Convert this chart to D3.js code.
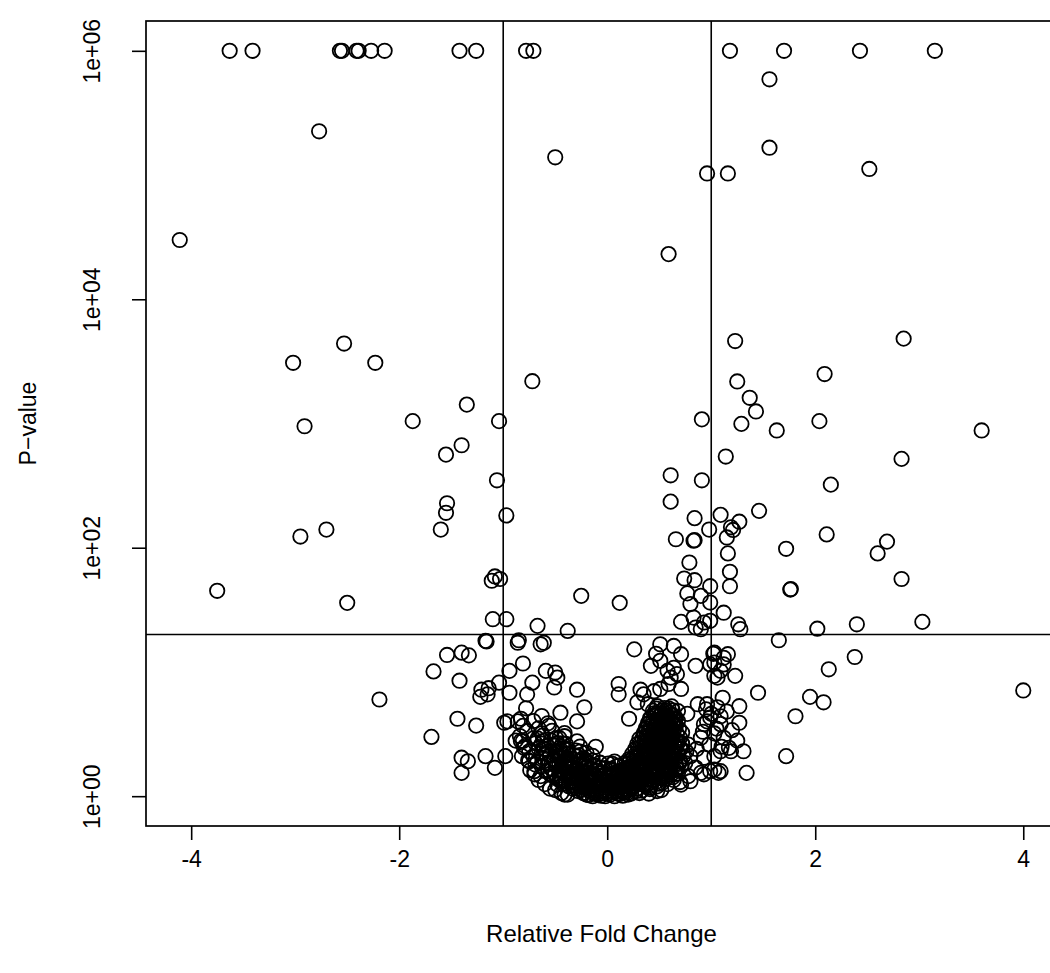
<!DOCTYPE html>
<html>
<head>
<meta charset="utf-8">
<script src="https://cdn.jsdelivr.net/npm/d3@7"></script>
<style>
  body { margin: 0; background: #fff; }
  text { font-family: "Liberation Sans", Arial, sans-serif; fill: #000; }
</style>
</head>
<body>
<div id="chart"></div>
<script>
// axis ticks and cutoff lines
const xTicks = [-4, -2, 0, 2, 4];
const yTicks = [1, 1e2, 1e4, 1e6];
const yTickLabels = ['1e+00', '1e+02', '1e+04', '1e+06'];
const foldCutoffs = [-1, 1];
const pCutoff = 20;

// [relative fold change, p-value]
const cappedPoints = [
  [-3.63, 1e6], [-3.41, 1e6], [-2.57, 1e6], [-2.55, 1e6], [-2.41, 1e6], [-2.39, 1e6],
  [-2.27, 1e6], [-2.14, 1e6], [-1.42, 1e6], [-1.26, 1e6], [-0.78, 1e6], [-0.71, 1e6],
  [1.18, 1e6], [1.70, 1e6], [2.43, 1e6], [3.15, 1e6]
];

const highPoints = [
  [-2.77, 2.25e5], [-4.11, 3.0e4], [-0.50, 1.39e5], [1.56, 5.9e5], [1.56, 1.66e5],
  [0.96, 1.03e5], [1.16, 1.03e5], [2.52, 1.12e5], [0.59, 2.31e4]
];

const leftPoints = [
  [-2.53, 4400], [-3.02, 3080], [-2.23, 3080], [-0.72, 2190], [-1.35, 1420], [-2.91, 950],
  [-1.87, 1045], [-1.04, 1045], [-1.40, 668], [-1.55, 562], [-1.06, 349], [-1.54, 228],
  [-1.55, 191], [-1.60, 140], [-0.97, 182], [-2.70, 140], [-2.95, 123], [-3.75, 45],
  [-2.50, 36], [-1.08, 58.7], [-1.11, 54.2], [-1.03, 56], [-1.10, 26.6], [-0.97, 26.6],
  [-0.67, 23.5], [-0.38, 21.4], [-0.25, 41],
  [-1.17, 17.8], [-1.16, 17.6], [-0.85, 18], [-1.54, 13.7], [-1.40, 14.3], [-1.33, 13.6],
  [-1.67, 10.1], [-1.42, 8.5], [-0.94, 10.2], [-0.81, 11.7], [-0.72, 8.2], [-1.04, 8.2],
  [-1.21, 7.2], [-1.15, 6.6], [-1.22, 6.3], [-1.14, 7.4], [-0.94, 6.8], [-0.77, 6.6],
  [-2.19, 6.0], [-0.78, 5.1], [-1.44, 4.2], [-1.26, 3.7], [-0.99, 3.9], [-0.83, 4.2],
  [-1.69, 3.0], [-1.17, 2.1], [-0.98, 2.1], [-1.40, 2.04], [-1.34, 1.91], [-1.40, 1.54],
  [-1.08, 1.69],
  [-0.86, 17.2], [-0.64, 16.7], [-0.61, 17.2], [-0.59, 10.2], [-0.50, 9.9], [-0.48, 9.0],
  [-0.51, 7.5], [-0.29, 7.2], [-0.22, 5.2], [-0.45, 4.7], [-0.29, 4.0], [-0.11, 2.5],
  [-0.96, 4.0], [-0.86, 4.0], [-0.88, 2.8], [-0.48, 1.24], [-0.41, 1.03], [-0.83, 2.78],
  [-0.80, 2.45], [-0.75, 1.91], [-0.70, 1.59],
  [-0.66, 1.35], [-0.60, 1.25], [-0.55, 1.15], [-0.70, 1.50], [-0.64, 1.45], [-0.50, 1.12],
  [-0.44, 1.06], [-0.38, 1.03], [-0.74, 1.62], [-0.69, 1.80], [-0.76, 1.95], [-0.82, 2.10]
];

const rightPoints = [
  [1.23, 4610], [2.85, 4820], [2.09, 2500], [1.25, 2180], [1.37, 1610], [1.43, 1250],
  [0.91, 1080], [1.29, 993], [1.63, 879], [2.04, 1045], [3.60, 879], [1.14, 542],
  [2.83, 519], [0.61, 383], [0.91, 349], [2.15, 322], [0.61, 235], [1.46, 198],
  [0.84, 173], [1.09, 184], [1.27, 162], [1.19, 146], [1.21, 139], [0.98, 140],
  [1.15, 121], [0.66, 117], [0.83, 114], [0.84, 115], [2.11, 128], [2.69, 112],
  [2.60, 90], [1.72, 98], [1.16, 90], [0.79, 76], [1.18, 64], [2.83, 56],
  [1.76, 46], [1.765, 46.5], [0.74, 56.5], [0.84, 54.8], [0.99, 49], [1.18, 49],
  [0.77, 42.9], [0.90, 41], [0.12, 36], [0.80, 35.2], [0.99, 36.2], [1.12, 30],
  [0.71, 25.3], [0.83, 27.4], [0.93, 25], [0.99, 25.8], [1.26, 24.2], [1.28, 22.1],
  [2.02, 22.3], [2.40, 24.2], [3.03, 25.3], [0.85, 22.8], [0.90, 22.1], [1.65, 18],
  [1.03, 14.3], [1.16, 13.9], [1.03, 11.9], [1.12, 11.5], [1.23, 9.3], [1.03, 9.3],
  [2.38, 13.2], [2.13, 10.5], [1.45, 6.8], [1.95, 6.3], [2.08, 5.7], [1.81, 4.4], [4.00, 7.1],
  [1.11, 6.2], [1.27, 5.3], [1.27, 3.9], [1.09, 4.4], [0.96, 4.0], [1.03, 3.2],
  [1.25, 2.8], [1.19, 2.3], [1.31, 2.3], [1.03, 2.1], [1.72, 2.1], [1.07, 1.54],
  [0.93, 1.5], [1.34, 1.54], [0.99, 1.59],
  [0.26, 15.2], [0.51, 16.7], [0.64, 16.2], [0.71, 13.9], [0.42, 11.2], [0.51, 12.3],
  [0.58, 10.2], [0.64, 10.8], [0.61, 9.0], [0.67, 9.6], [0.85, 11.2], [1.02, 14.0],
  [1.12, 13.0], [0.99, 11.5], [1.09, 10.2], [1.06, 9.0], [0.47, 14.0], [0.59, 8.0],
  [0.71, 7.3], [0.51, 7.3],
  [0.11, 8.0], [0.11, 6.6], [0.32, 7.2], [0.35, 6.6], [0.45, 7.0], [0.29, 5.7],
  [0.39, 5.5], [0.21, 4.2], [0.87, 5.5], [0.96, 5.5], [1.06, 5.2], [0.77, 4.6],
  [0.93, 3.8], [1.09, 3.8], [0.90, 2.95], [0.99, 4.3], [1.12, 2.95], [1.09, 2.3],
  [0.93, 2.04], [0.90, 1.54], [1.03, 1.64], [1.09, 1.59], [1.17, 2.45], [0.80, 1.32],
  [0.71, 1.24], [0.48, 1.10],
  [0.95, 5.0], [1.00, 4.6], [1.05, 3.5], [0.92, 3.3], [1.15, 4.8], [1.20, 3.4],
  [0.98, 2.6], [1.10, 2.5],
  [0.78, 1.45], [0.70, 1.30], [0.85, 1.70], [0.75, 1.85], [0.80, 2.10], [0.86, 2.40],
  [0.78, 2.60], [0.58, 1.25], [0.52, 1.12], [0.40, 1.05], [0.64, 1.35]
];

// the dense U-shaped core near zero fold change, read row by row
const corePoints = [
  [-0.18, 1.02], [-0.14, 1.00], [-0.11, 1.04], [-0.06, 1.01], [-0.02, 1.00], [0.03, 1.03], [0.07, 1.00], [0.10, 1.05], [0.15, 1.01], [0.20, 1.03],
  [-0.23, 1.06], [-0.20, 1.03], [-0.14, 1.07], [-0.08, 1.04], [-0.05, 1.06], [0.00, 1.05], [0.05, 1.08], [0.12, 1.04], [0.17, 1.07], [0.23, 1.05],
  [-0.28, 1.10], [-0.22, 1.06], [-0.17, 1.11], [-0.10, 1.07], [-0.04, 1.10], [0.02, 1.06], [0.10, 1.09], [0.14, 1.12], [0.20, 1.07], [0.28, 1.10], [0.31, 1.06],
  [-0.33, 1.15], [-0.25, 1.12], [-0.21, 1.16], [-0.13, 1.11], [-0.09, 1.15], [-0.01, 1.13], [0.05, 1.16], [0.09, 1.11], [0.17, 1.14], [0.21, 1.12],
  [0.29, 1.16], [0.33, 1.11], [0.41, 1.14],
  [-0.37, 1.20], [-0.29, 1.16], [-0.24, 1.22], [-0.19, 1.17], [-0.11, 1.19], [-0.07, 1.23], [0.01, 1.16], [0.05, 1.21], [0.13, 1.17], [0.17, 1.22],
  [0.25, 1.18], [0.29, 1.15], [0.37, 1.21], [0.41, 1.17], [0.48, 1.20],
  [-0.42, 1.26], [-0.34, 1.22], [-0.30, 1.27], [-0.22, 1.23], [-0.18, 1.21], [-0.10, 1.26], [-0.06, 1.22], [0.02, 1.27], [0.06, 1.23], [0.14, 1.20],
  [0.18, 1.26], [0.26, 1.22], [0.30, 1.27], [0.38, 1.24], [0.42, 1.21], [0.50, 1.26],
  [-0.45, 1.33], [-0.37, 1.28], [-0.33, 1.34], [-0.25, 1.29], [-0.21, 1.27], [-0.13, 1.32], [-0.09, 1.26], [-0.01, 1.33], [0.05, 1.29], [0.09, 1.25],
  [0.17, 1.31], [0.21, 1.34], [0.29, 1.27], [0.33, 1.32], [0.41, 1.29], [0.45, 1.34], [0.53, 1.28],
  [-0.48, 1.38], [-0.40, 1.34], [-0.36, 1.40], [-0.28, 1.35], [-0.24, 1.33], [-0.16, 1.39], [-0.12, 1.34], [-0.04, 1.38], [0.00, 1.33], [0.08, 1.39],
  [0.12, 1.35], [0.20, 1.32], [0.24, 1.38], [0.32, 1.34], [0.36, 1.40], [0.44, 1.35], [0.48, 1.32], [0.56, 1.38],
  [-0.51, 1.44], [-0.45, 1.40], [-0.36, 1.46], [-0.32, 1.41], [-0.24, 1.39], [-0.19, 1.45], [-0.10, 1.40], [-0.06, 1.46], [0.03, 1.42], [0.07, 1.38],
  [0.15, 1.44], [0.19, 1.40], [0.27, 1.46], [0.31, 1.41], [0.39, 1.38], [0.43, 1.44], [0.51, 1.40], [0.55, 1.46], [0.63, 1.42],
  [-0.55, 1.51], [-0.46, 1.47], [-0.42, 1.53], [-0.33, 1.48], [-0.29, 1.45], [-0.20, 1.52], [-0.15, 1.47], [-0.07, 1.53], [-0.02, 1.48], [0.06, 1.45],
  [0.10, 1.51], [0.18, 1.47], [0.22, 1.53], [0.30, 1.48], [0.34, 1.45], [0.42, 1.51], [0.46, 1.47], [0.54, 1.53], [0.58, 1.48], [0.66, 1.51],
  [-0.59, 1.59], [-0.50, 1.53], [-0.46, 1.60], [-0.37, 1.55], [-0.32, 1.51], [-0.23, 1.58], [-0.18, 1.54], [-0.09, 1.60], [-0.04, 1.55], [0.05, 1.51],
  [0.10, 1.58], [0.19, 1.53], [0.24, 1.60], [0.32, 1.55], [0.36, 1.51], [0.44, 1.58], [0.48, 1.53], [0.56, 1.60], [0.60, 1.55], [0.68, 1.52],
  [-0.53, 1.66], [-0.44, 1.61], [-0.39, 1.68], [-0.30, 1.62], [-0.25, 1.59], [-0.16, 1.67], [-0.11, 1.61], [-0.02, 1.68], [0.03, 1.62], [0.12, 1.59],
  [0.17, 1.66], [0.25, 1.61], [0.29, 1.68], [0.37, 1.62], [0.41, 1.59], [0.49, 1.66], [0.53, 1.61], [0.61, 1.68], [0.65, 1.62],
  [-0.63, 1.74], [-0.54, 1.67], [-0.49, 1.75], [-0.40, 1.69], [-0.35, 1.66], [-0.26, 1.73], [-0.21, 1.68], [-0.12, 1.76], [-0.07, 1.69], [0.03, 1.66],
  [0.09, 1.74], [0.18, 1.68], [0.23, 1.75], [0.31, 1.70], [0.35, 1.66], [0.43, 1.73], [0.47, 1.68], [0.55, 1.76], [0.59, 1.70], [0.67, 1.66], [0.71, 1.73],
  [-0.56, 1.83], [-0.46, 1.77], [-0.40, 1.84], [-0.31, 1.78], [-0.26, 1.75], [-0.17, 1.83], [-0.12, 1.77], [0.05, 1.82], [0.11, 1.76],
  [0.21, 1.84], [0.25, 1.78], [0.33, 1.75], [0.37, 1.83], [0.45, 1.77], [0.49, 1.84], [0.57, 1.78], [0.61, 1.75], [0.69, 1.82],
  [-0.67, 1.91], [-0.57, 1.85], [-0.51, 1.93], [-0.42, 1.86], [-0.37, 1.83], [-0.28, 1.90], [-0.23, 1.85], [-0.14, 1.93], [-0.07, 1.86], [0.01, 1.83],
  [0.07, 1.90], [0.17, 1.85], [0.22, 1.93], [0.30, 1.86], [0.34, 1.83], [0.42, 1.91], [0.46, 1.85], [0.54, 1.93], [0.58, 1.87], [0.66, 1.83], [0.70, 1.91],
  [-0.51, 2.00], [-0.41, 1.93], [-0.35, 2.01], [-0.25, 1.95], [-0.20, 1.92],
  [0.21, 1.99], [0.26, 1.93], [0.34, 2.01], [0.38, 1.95], [0.46, 1.92], [0.50, 2.00], [0.58, 1.94], [0.62, 2.01], [0.70, 1.95],
  [-0.71, 2.10], [-0.61, 2.02], [-0.55, 2.11], [-0.45, 2.03], [-0.39, 2.00], [-0.29, 2.08], [-0.23, 2.02], [-0.14, 2.11],
  [0.25, 2.03], [0.29, 2.10], [0.37, 2.01], [0.41, 2.09], [0.49, 2.03], [0.53, 2.11], [0.61, 2.04], [0.65, 2.00], [0.73, 2.09],
  [-0.59, 2.20], [-0.47, 2.12], [-0.39, 2.21], [-0.27, 2.13],
  [0.24, 2.19], [0.32, 2.12], [0.36, 2.21], [0.44, 2.13], [0.48, 2.10], [0.56, 2.19], [0.60, 2.13], [0.68, 2.21],
  [-0.75, 2.30], [-0.63, 2.21], [-0.56, 2.31], [-0.44, 2.22], [-0.37, 2.19], [-0.26, 2.29], [-0.20, 2.23],
  [0.28, 2.21], [0.32, 2.30], [0.40, 2.22], [0.44, 2.31], [0.52, 2.20], [0.56, 2.28], [0.64, 2.23], [0.68, 2.19], [0.76, 2.29],
  [-0.61, 2.41], [-0.49, 2.32], [-0.42, 2.42], [-0.30, 2.33],
  [0.27, 2.40], [0.35, 2.32], [0.39, 2.42], [0.47, 2.33], [0.51, 2.30], [0.59, 2.40], [0.63, 2.33], [0.71, 2.42],
  [-0.79, 2.53], [-0.66, 2.43], [-0.58, 2.54], [-0.46, 2.44], [-0.38, 2.41], [-0.26, 2.51],
  [0.30, 2.44], [0.34, 2.53], [0.42, 2.43], [0.46, 2.52], [0.54, 2.42], [0.58, 2.51], [0.66, 2.45], [0.70, 2.40],
  [-0.63, 2.65], [-0.51, 2.55], [-0.43, 2.66],
  [0.29, 2.63], [0.37, 2.55], [0.41, 2.66], [0.49, 2.56], [0.53, 2.52], [0.61, 2.64], [0.65, 2.56], [0.72, 2.66],
  [-0.81, 2.78], [-0.69, 2.67], [-0.61, 2.79], [-0.48, 2.68], [-0.40, 2.64], [-0.29, 2.76],
  [0.32, 2.67], [0.36, 2.78], [0.44, 2.66], [0.48, 2.77], [0.56, 2.65], [0.60, 2.76], [0.68, 2.69], [0.72, 2.64],
  [-0.67, 2.92], [-0.54, 2.80], [-0.46, 2.93],
  [0.31, 2.90], [0.39, 2.80], [0.43, 2.92], [0.51, 2.81], [0.55, 2.77], [0.63, 2.91], [0.67, 2.81],
  [-0.84, 3.05], [-0.71, 2.92], [-0.62, 3.07], [-0.49, 2.93], [-0.41, 3.04],
  [0.34, 2.93], [0.38, 3.06], [0.46, 2.91], [0.50, 3.04], [0.58, 2.90], [0.62, 3.05], [0.70, 2.95],
  [0.35, 3.19], [0.43, 3.07], [0.47, 3.20], [0.55, 3.08], [0.59, 3.03], [0.67, 3.18],
  [-0.77, 3.35], [-0.63, 3.21], [-0.53, 3.36], [-0.41, 3.22],
  [0.36, 3.22], [0.40, 3.35], [0.48, 3.20], [0.52, 3.33], [0.60, 3.19], [0.64, 3.34], [0.72, 3.24],
  [0.37, 3.50], [0.45, 3.37], [0.49, 3.52], [0.57, 3.38], [0.61, 3.33], [0.69, 3.49],
  [-0.81, 3.68], [-0.66, 3.52], [-0.56, 3.69],
  [0.38, 3.52], [0.42, 3.68], [0.50, 3.51], [0.54, 3.66], [0.62, 3.50], [0.66, 3.67],
  [0.39, 3.84], [0.47, 3.69], [0.51, 3.86], [0.59, 3.70], [0.65, 3.82],
  [-0.71, 4.03], [-0.57, 3.86],
  [0.40, 3.86], [0.44, 4.04], [0.52, 3.85], [0.56, 4.02], [0.64, 3.84], [0.68, 4.03],
  [0.41, 4.22], [0.49, 4.05], [0.53, 4.24], [0.61, 4.06], [0.65, 4.20],
  [-0.63, 4.42], [0.42, 4.25], [0.46, 4.44], [0.54, 4.23], [0.58, 4.41], [0.66, 4.26],
  [0.45, 4.64], [0.51, 4.45], [0.55, 4.66], [0.63, 4.47],
  [0.44, 4.86], [0.48, 4.66], [0.56, 4.88], [0.60, 4.67], [0.68, 4.84],
  [0.47, 5.08], [0.53, 4.88], [0.59, 5.09], [0.63, 4.90],
  [0.48, 5.30], [0.55, 5.12], [0.62, 5.28]
];

// extra overplotted points where the core reads as solid black
const coreDense = [
  [0.40, 1.62], [0.46, 1.70], [0.52, 1.79], [0.58, 1.64], [0.44, 1.92], [0.50, 2.05], [0.56, 1.96], [0.62, 2.18],
  [0.40, 2.30], [0.47, 2.45], [0.53, 2.34], [0.59, 2.56], [0.43, 2.70], [0.50, 2.88], [0.57, 2.72], [0.62, 2.97],
  [0.41, 3.10], [0.47, 3.30], [0.53, 3.12], [0.59, 3.42], [0.45, 3.62], [0.51, 3.90], [0.57, 3.58], [0.63, 3.75],
  [0.48, 4.10], [0.55, 4.35], [0.61, 4.50], [0.52, 4.60],
  [-0.35, 1.44], [-0.27, 1.52], [-0.19, 1.36], [-0.12, 1.48], [-0.05, 1.29], [0.02, 1.46], [0.09, 1.33], [0.16, 1.52],
  [0.23, 1.27], [0.30, 1.43], [-0.31, 1.21], [-0.24, 1.31], [-0.16, 1.14], [-0.08, 1.25], [0.00, 1.10], [0.08, 1.22],
  [0.15, 1.07], [0.22, 1.18], [0.29, 1.31], [0.35, 1.24], [-0.43, 1.62], [-0.36, 1.75], [-0.29, 1.64], [-0.21, 1.80],
  [0.24, 1.66], [0.31, 1.80], [0.38, 1.48], [0.45, 1.60], [0.52, 1.42], [0.60, 1.60]
];

const allPoints = [...cappedPoints, ...highPoints, ...leftPoints, ...rightPoints, ...corePoints, ...coreDense];

const width = 1050, height = 973;
const plot = { left: 146, right: 1057, top: 21, bottom: 826 };

// R style axis ranges: data extent padded by 4% on each side
const xExtent = d3.extent(allPoints, d => d[0]);
const xPad = (xExtent[1] - xExtent[0]) * 0.04;
const x = d3.scaleLinear()
    .domain([xExtent[0] - xPad, xExtent[1] + xPad])
    .range([plot.left, plot.right]);

const logExtent = d3.extent(allPoints, d => Math.log10(d[1]));
const logPad = (logExtent[1] - logExtent[0]) * 0.04;
const y = d3.scaleLog()
    .domain([Math.pow(10, logExtent[0] - logPad), Math.pow(10, logExtent[1] + logPad)])
    .range([plot.bottom, plot.top]);

const svg = d3.select('#chart')
    .append('svg')
    .attr('width', width)
    .attr('height', height)
    .style('display', 'block');

svg.append('rect')
    .attr('width', width)
    .attr('height', height)
    .attr('fill', '#fff');

// points
svg.append('g')
    .selectAll('circle')
    .data(allPoints)
    .join('circle')
    .attr('cx', d => x(d[0]))
    .attr('cy', d => y(d[1]))
    .attr('r', 7.2)
    .attr('fill', 'none')
    .attr('stroke', '#000')
    .attr('stroke-width', 1.8);

// cutoff lines
svg.append('g')
    .selectAll('line')
    .data(foldCutoffs)
    .join('line')
    .attr('x1', d => x(d))
    .attr('x2', d => x(d))
    .attr('y1', plot.top)
    .attr('y2', plot.bottom)
    .attr('stroke', '#000')
    .attr('stroke-width', 1.6);

svg.append('line')
    .attr('x1', plot.left)
    .attr('x2', plot.right)
    .attr('y1', y(pCutoff))
    .attr('y2', y(pCutoff))
    .attr('stroke', '#000')
    .attr('stroke-width', 1.6);

// box
svg.append('rect')
    .attr('x', plot.left)
    .attr('y', plot.top)
    .attr('width', plot.right - plot.left)
    .attr('height', plot.bottom - plot.top)
    .attr('fill', 'none')
    .attr('stroke', '#000')
    .attr('stroke-width', 1.7);

// x axis
const xAxis = svg.append('g')
    .attr('transform', `translate(0,${plot.bottom})`)
    .call(d3.axisBottom(x).tickValues(xTicks).tickSize(14).tickFormat(d => d < 0 ? '-' + Math.abs(d) : d));
xAxis.select('.domain').remove();
xAxis.selectAll('.tick line').attr('stroke', '#000').attr('stroke-width', 1.6);
xAxis.selectAll('.tick text')
    .attr('y', 41)
    .attr('dy', 0)
    .style('font-size', '23px')
    .style('font-family', '"Liberation Sans", Arial, sans-serif');

// y axis with rotated labels
const yAxis = svg.append('g')
    .attr('transform', `translate(${plot.left},0)`)
    .call(d3.axisLeft(y).tickValues(yTicks).tickSize(14).tickFormat((d, i) => yTickLabels[i]));
yAxis.select('.domain').remove();
yAxis.selectAll('.tick line').attr('stroke', '#000').attr('stroke-width', 1.6);
yAxis.selectAll('.tick text')
    .attr('transform', 'rotate(-90)')
    .attr('x', 0)
    .attr('y', -46)
    .attr('dy', 0)
    .attr('text-anchor', 'middle')
    .style('font-size', '23px')
    .style('font-family', '"Liberation Sans", Arial, sans-serif');

// axis titles
svg.append('text')
    .attr('x', (plot.left + plot.right) / 2)
    .attr('y', 942)
    .attr('text-anchor', 'middle')
    .style('font-size', '24px')
    .text('Relative Fold Change');

svg.append('text')
    .attr('transform', `translate(36,${(plot.top + plot.bottom) / 2}) rotate(-90)`)
    .attr('text-anchor', 'middle')
    .style('font-size', '23px')
    .text('P\u2212value');
</script>
</body>
</html>
